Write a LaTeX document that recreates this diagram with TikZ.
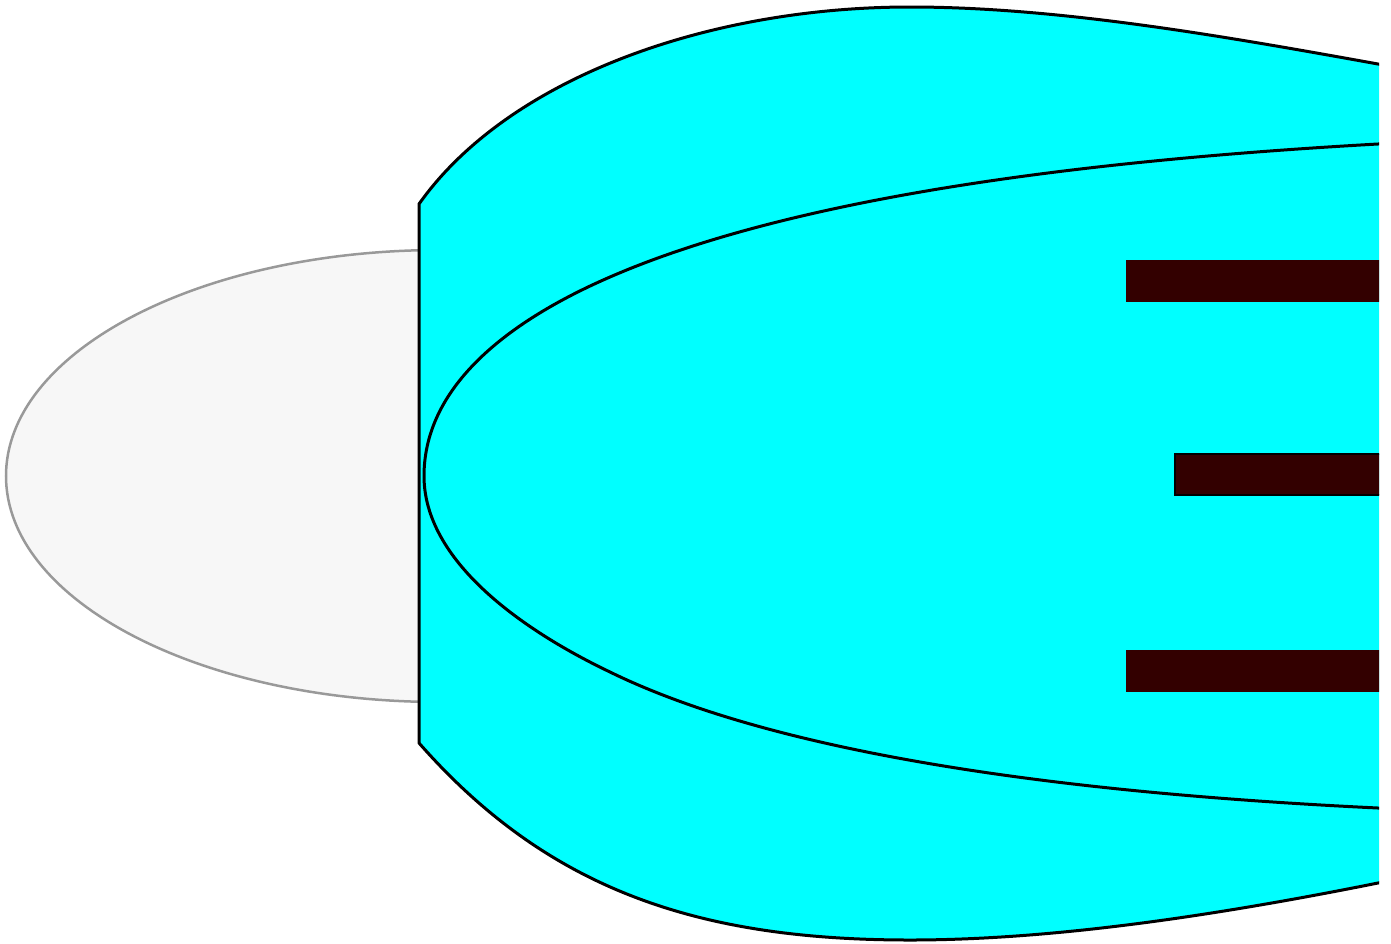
\documentclass[tikz,border=0pt]{standalone}
\definecolor{bargray}{HTML}{F7F7F7}
\definecolor{ellstroke}{HTML}{999999}
\definecolor{barbrown}{HTML}{330000}
\definecolor{aqua}{HTML}{00FFFF}
\tikzset{
  ellshape/.style={fill=bargray, draw=ellstroke, line width=2.5pt},
  outershape/.style={fill=aqua, draw=black, line width=3pt, line join=round},
  innercurve/.style={draw=black, line width=3pt},
  barrect/.style={fill=barbrown, draw=none},
  barframed/.style={fill=barbrown, draw=black, line width=1.5pt}
}
\begin{document}
\begin{tikzpicture}[x=1pt,y=-1pt]
\useasboundingbox (0,0) rectangle (1391,943);
\clip (0,0) rectangle (1379,943);
% gray ellipse
\draw[ellshape] (440,476) ellipse [x radius=434, y radius=226];
% outer cyan shape
\coordinate (otl) at (419,204);
\coordinate (obl) at (419,743);
\coordinate (obot) at (910,940);
\coordinate (obr) at (1378,883);
\coordinate (otop) at (910,7);
\coordinate (otr) at (1378,64);
\draw[outershape] (otl) -- (obl)
  .. controls (549,891) and (700,940) .. (obot)
  .. controls (1060,940) and (1228,913) .. (obr)
  -- (1420,874) -- (1420,72) -- (otr)
  .. controls (1228,37) and (1060,7) .. (otop)
  .. controls (710,7) and (509,77) .. (otl)
  -- cycle;
% inner curve
\coordinate (itr) at (1378,144);
\coordinate (imu) at (610,277);
\coordinate (itip) at (424,476);
\coordinate (iml) at (610,672);
\coordinate (ibr) at (1378,808);
\draw[innercurve] (1420,142) -- (itr)
  .. controls (1128,158) and (810,190) .. (imu)
  .. controls (520,316) and (424,380) .. (itip)
  .. controls (424,560) and (520,629) .. (iml)
  .. controls (800,765) and (1128,796) .. (ibr)
  -- (1420,810);
% bars
\path[barrect] (1126,260) rectangle (1400,302);
\path[barframed] (1175,454) rectangle (1400,495);
\path[barrect] (1126,650) rectangle (1400,692);
\end{tikzpicture}
\end{document}
